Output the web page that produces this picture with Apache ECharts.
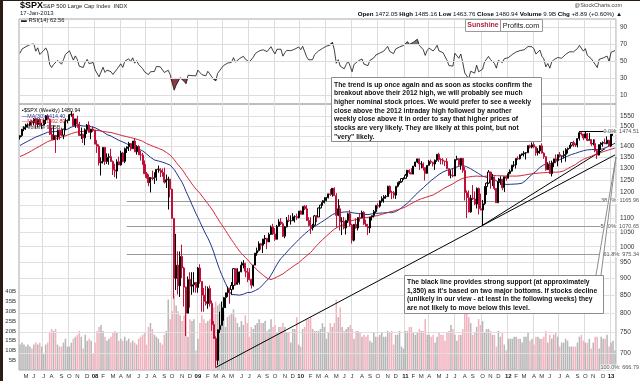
<!DOCTYPE html>
<html><head><meta charset="utf-8">
<script src="https://cdn.jsdelivr.net/npm/echarts@6/dist/echarts.min.js"></script>
<style>html,body{margin:0;padding:0;background:#fff;}#c{width:640px;height:381px;}</style>
</head><body><div id="c"></div>
<script>
// ---------- DATA (weekly $SPX) ----------
const firstWeek = '2007-04-13';
const warmupCloses = [1311,1310,1325,1291,1267,1280,1288,1252,1251,1244,1270,1265,1236,1240,1278,1279,1266,1302,1296,1311,1299,1321,1314,1336,1349,1366,1368,1377,1364,1380,1401,1400,1397,1409,1427,1410,1418,1410,1431,1431,1423,1449,1438,1455,1451,1387,1402,1387,1437,1421,1444];
const opens = [
1444,1452,1484,1494,1505,1505,1522,1515,1536,1507,1533,1502,1503,1530,1552,1534,1458,1433,1453,1445,1479,1474,1454,1484,1525,1527,1557,1561,1501,1536,1509,1453,1458,1441,1481,1504,1468,1484,
1478,1411,1401,1325,1331,1396,1331,1350,1353,1331,1294,1289,1330,1316,1370,1332,1390,1398,1414,1389,1426,1375,1400,1361,1360,1318,1278,1262,1240,1261,1257,1261,1296,1298,1292,1283,1242,1252,1255,1213,1100,899,940,877,968,931,873,800,896,876,880,887,
872,931,890,850,832,826,869,827,770,735,683,757,768,815,843,857,870,866,878,929,882,887,919,940,946,921,918,896,879,940,979,987,1010,1005,1026,1029,1016,1042,1068,1044,1025,1071,1087,1080,1036,1069,1093,1091,1091,1106,1106,1102,1127,
1115,1145,1136,1092,1074,1066,1075,1109,1105,1139,1150,1160,1167,1179,1194,1192,1217,1187,1111,1136,1087,1089,1065,1092,1117,1076,1022,1078,1065,1103,1102,1122,1079,1071,1065,1105,1110,1125,1149,1146,1166,1176,1183,1183,1225,1200,1199,1189,1225,1240,1244,1257,
1258,1271,1293,1283,1276,1311,1329,1343,1320,1321,1304,1279,1314,1332,1328,1320,1337,1364,1340,1338,1333,1331,1300,1271,1271,1268,1340,1344,1316,1345,1292,1199,1179,1124,1177,1174,1154,1216,1136,1131,1155,1224,1238,1285,1253,1264,1216,1159,1244,1255,1219,1265,
1258,1278,1289,1315,1316,1345,1343,1361,1366,1370,1371,1404,1397,1408,1398,1370,1379,1403,1369,1353,1295,1318,1278,1325,1343,1335,1362,1355,1357,1363,1386,1391,1406,1418,1411,1407,1438,1466,1460,1441,1461,1429,1433,1412,1414,1380,1360,1409,1416,1418,1413,1430,
1402,1466.47,1472.05];
const highs = [
1453,1484,1498,1511,1513,1522,1530,1540,1540,1538,1540,1515,1532,1555,1556,1538,1490,1503,1455,1482,1481,1491,1485,1538,1533,1561,1576,1564,1536,1552,1520,1492,1462,1488,1510,1523,1485,1498,
1479,1430,1410,1350,1396,1396,1368,1367,1389,1336,1321,1341,1353,1380,1375,1395,1400,1422,1416,1426,1440,1406,1406,1380,1370,1336,1285,1275,1263,1291,1284,1297,1313,1301,1300,1304,1274,1265,1255,1215,1100,1044,985,984,1007,935,875,905,918,918,918,888,
934,943,890,871,877,875,878,835,779,740,758,804,832,845,857,875,871,888,930,930,930,920,951,956,947,931,931,898,941,979,997,1018,1013,1027,1040,1030,1048,1074,1080,1064,1076,1097,1101,1086,1072,1105,1113,1111,1119,1111,1117,1127,1130,
1145,1150,1150,1104,1104,1080,1112,1112,1140,1151,1169,1181,1182,1195,1214,1217,1220,1197,1173,1150,1104,1105,1095,1121,1131,1080,1079,1100,1103,1120,1129,1127,1095,1080,1105,1110,1131,1149,1158,1168,1184,1189,1190,1227,1228,1207,1205,1225,1241,1246,1259,1262,
1277,1293,1296,1302,1311,1330,1344,1344,1333,1327,1305,1315,1338,1340,1330,1340,1364,1371,1346,1346,1334,1346,1300,1293,1298,1341,1357,1344,1347,1347,1307,1208,1208,1190,1230,1204,1220,1220,1195,1170,1225,1240,1293,1285,1277,1266,1217,1260,1267,1255,1265,1269,
1285,1296,1315,1333,1345,1354,1363,1368,1378,1374,1405,1409,1419,1422,1400,1392,1406,1415,1373,1355,1328,1334,1335,1343,1363,1363,1374,1357,1380,1392,1395,1407,1418,1427,1413,1438,1474.51,1469,1460,1471,1465,1465,1434,1434,1434,1388,1409,1420,1424,1438,1448,1431,
1467,1472.5,1485.16];
const lows = [
1433,1446,1474,1480,1491,1498,1500,1503,1487,1492,1500,1484,1503,1510,1533,1456,1432,1430,1370,1430,1432,1450,1435,1480,1513,1527,1547,1500,1490,1491,1450,1436,1416,1406,1460,1467,1435,1470,
1411,1370,1313,1270,1322,1316,1321,1317,1330,1272,1263,1257,1315,1313,1328,1324,1370,1379,1380,1389,1374,1362,1360,1335,1317,1278,1257,1225,1200,1250,1235,1248,1282,1263,1265,1236,1218,1133,1180,1099,840,865,852,845,900,818,741,800,815,851,858,857,
857,883,804,804,821,812,818,754,734,666.79,672,749,768,780,814,845,826,851,866,878,880,881,918,930,903,888,893,869,875,940,970,984,990,979,1009,992,1016,1041,1040,1020,1025,1070,1075,1033,1029,1067,1086,1077,1091,1085,1094,1100,1115,
1114,1131,1090,1071,1044,1056,1073,1086,1105,1137,1148,1156,1165,1176,1186,1183,1186,1066,1108,1056,1040,1060,1042,1084,1071,1011,1018,1063,1056,1088,1102,1076,1070,1040,1047,1092,1103,1120,1136,1140,1160,1159,1175,1183,1194,1173,1176,1174,1220,1232,1240,1252,
1257,1265,1276,1275,1276,1307,1324,1294,1301,1291,1249,1278,1312,1320,1309,1294,1330,1329,1318,1318,1311,1297,1268,1258,1262,1268,1336,1308,1295,1282,1168,1101,1122,1121,1170,1150,1137,1114,1130,1074.77,1151,1190,1234,1215,1226,1209,1158,1158,1231,1209,1202,1248,
1258,1275,1287,1306,1300,1337,1340,1357,1354,1340,1370,1391,1391,1392,1357,1358,1366,1367,1343,1291,1295,1277,1266,1306,1324,1310,1349,1326,1345,1330,1367,1389,1400,1398,1398,1396,1428,1452,1430,1439,1425,1428,1403,1405,1373,1343,1359,1385,1399,1411,1411,1401,
1398,1451,1463.76];
const closes = [
1452,1484,1494,1505,1505,1522,1515,1536,1507,1533,1502,1503,1530,1552,1534,1458,1433,1453,1445,1479,1474,1454,1484,1525,1527,1557,1561,1501,1536,1509,1453,1458,1441,1481,1504,1468,1484,1478,
1411,1401,1325,1331,1396,1331,1350,1353,1331,1294,1289,1330,1316,1370,1332,1390,1398,1414,1389,1426,1375,1400,1361,1360,1318,1278,1262,1240,1261,1257,1261,1296,1298,1292,1283,1242,1252,1255,1213,1100,899,940,877,968,931,873,800,896,876,880,887,872,
931,890,850,832,826,869,827,770,735,683,757,768,815,843,857,870,866,878,929,882,887,919,940,946,921,918,896,879,940,979,987,1010,1005,1026,1029,1016,1042,1068,1044,1025,1071,1087,1080,1036,1069,1093,1091,1091,1106,1106,1102,1127,1115,
1145,1136,1092,1074,1066,1075,1109,1105,1139,1150,1160,1167,1179,1194,1192,1217,1187,1111,1136,1087,1089,1065,1092,1117,1076,1022,1078,1065,1103,1102,1122,1079,1071,1065,1105,1110,1125,1149,1146,1166,1176,1183,1183,1225,1200,1199,1189,1225,1240,1244,1257,1258,
1271,1293,1283,1276,1311,1329,1343,1320,1321,1304,1279,1314,1332,1328,1320,1337,1364,1340,1338,1333,1331,1300,1271,1271,1268,1340,1344,1316,1345,1292,1199,1179,1124,1177,1174,1154,1216,1136,1131,1155,1224,1238,1285,1253,1264,1216,1159,1244,1255,1219,1265,1258,
1278,1289,1315,1316,1345,1343,1361,1366,1370,1371,1404,1397,1408,1398,1370,1379,1403,1369,1353,1295,1318,1278,1325,1343,1335,1362,1355,1357,1363,1386,1391,1406,1418,1411,1407,1438,1466,1460,1441,1461,1429,1433,1412,1414,1380,1360,1409,1416,1418,1413,1430,1402,
1466.47,1472.05,1480.94];
const volumesB = [
13,14,13,12,13,12,11,13,14,13,14,12,8,13,14,19,21,20,21,13,12,12,14,16,12,12,14,16,17,18,20,17,11,18,15,16,15,8,
14,20,22,23,20,17,15,16,17,19,20,19,15,16,15,17,15,16,14,15,14,13,16,17,18,19,13,22,24,21,18,17,16,14,13,18,20,36,26,30,39,33,30,28,25,28,34,17,26,25,26,10,
16,24,28,26,24,25,26,28,32,35,33,34,30,30,22,27,28,29,31,27,24,22,25,23,28,24,17,22,21,23,24,26,24,24,25,20,21,26,22,23,19,22,22,24,22,19,19,14,21,21,27,13,12,
21,22,26,26,27,21,20,20,20,21,24,22,16,19,24,22,24,36,27,32,22,20,21,22,23,21,16,20,20,19,17,18,17,18,15,14,19,17,17,18,19,17,17,20,19,20,13,18,18,20,12,11,
20,20,22,22,19,18,19,21,20,20,26,18,18,17,18,14,17,19,18,18,15,19,20,23,21,18,15,18,18,21,31,35,27,24,18,19,22,26,23,25,19,21,21,20,18,18,12,20,17,19,13,10,
16,16,16,17,17,16,16,14,17,17,19,15,16,13,17,17,16,16,17,20,14,18,16,18,19,17,12,14,14,16,15,12,12,12,12,14,17,18,15,14,14,16,11,14,17,17,11,17,16,16,18,12,
14,15,10];
const priceTicks = [700,750,800,850,900,950,1000,1050,1100,1200,1250,1300,1350,1400,1500,1550];
const priceGridLines = [700,750,800,850,900,950,1000,1050,1100,1150,1200,1250,1300,1350,1400,1450,1500,1550];
const rsiTicks = [10,30,50,70,90];
const fibLevels = [1474.51,1165.96,1070.65,975.34,666.79];
const fibLabels = ['0.0%: 1474.51','38.2%: 1165.96','50.0%: 1070.65','61.8%: 975.34','100.0%: 666.79'];
const fibStartIdx = 54;
// trend lines: [startIndex, startValue, endIndex, endValue]
const trendLines = [[99,666.79,301,1361],[283,1474.51,301,1474.51],[234,1074.77,296,1390]];
const maPeriods = [30,50];
const legendLines = ['$SPX (Weekly) 1480.94','MA(30) 1414.40','MA(50) 1392.89','Volume 9.95B'];
const note1 = ['The trend is up once again and as soon as stocks confirm the','breakout above their 2012 high, we will probably see much','higher nominal stock prices. We would prefer to see a weekly','close above the 2012 intraday high followed by another','weekly close above it in order to say that higher prices of','stocks are very likely. They are likely at this point, but not','"very" likely.'];
const note2 = ['The black line provides strong support (at approximately','1,350) as it\'s based on two major bottoms. If stocks decline','(unlikely in our view - at least in the following weeks) they','are not likely to move below this level.'];

// ---------- derived ----------
const N = closes.length;
const dates = [];
for (let i = 0; i < N; i++) { const d = new Date(Date.parse(firstWeek + 'T00:00:00Z') + i * 7 * 86400000); dates.push(d.toISOString().slice(0, 10)); }
const allCloses = warmupCloses.concat(closes);
const W = warmupCloses.length;
function sma(n) { const out = []; for (let i = W; i < allCloses.length; i++) { let s = 0; for (let k = i - n + 1; k <= i; k++) s += allCloses[k]; out.push(+(s / n).toFixed(2)); } return out; }
function rsi(n) { const v = allCloses; const out = new Array(v.length).fill(null); let g = 0, l = 0; for (let i = 1; i <= n; i++) { const d = v[i] - v[i - 1]; if (d > 0) g += d; else l -= d; } g /= n; l /= n; out[n] = 100 - 100 / (1 + g / l); for (let i = n + 1; i < v.length; i++) { const d = v[i] - v[i - 1]; g = (g * (n - 1) + Math.max(d, 0)) / n; l = (l * (n - 1) + Math.max(-d, 0)) / n; out[i] = l === 0 ? 100 : 100 - 100 / (1 + g / l); } return out.slice(W).map(x => +x.toFixed(2)); }
const ma1 = sma(maPeriods[0]), ma2 = sma(maPeriods[1]);
const rsiVals = rsi(14);
const month = s => parseInt(s.slice(5, 7), 10);
const isMonthStart = i => i > 0 && month(dates[i]) !== month(dates[i - 1]);
const RED = '#c0103a';
const FONT = '"Liberation Sans", Arial, sans-serif';

const chart = echarts.init(document.getElementById('c'), null, { renderer: 'canvas', width: 640, height: 381 });
const gridL = 19, gridR = 24;
const option = {
  animation: false,
  backgroundColor: '#fff',
  grid: [
    { left: gridL, right: gridR, top: 19, height: 85, show: true, borderColor: '#a8a8a8', borderWidth: 1 },
    { left: gridL, right: gridR, top: 104, height: 266, show: true, borderColor: '#a8a8a8', borderWidth: 1 }
  ],
  xAxis: [
    { type: 'category', gridIndex: 0, data: dates, boundaryGap: true, axisLine: { show: false }, axisTick: { show: false }, axisLabel: { show: false },
      splitLine: { show: true, interval: (i) => isMonthStart(i) && [1,4,7,10].includes(month(dates[i])), lineStyle: { color: '#dcdcdc', width: 1 } } },
    { type: 'category', gridIndex: 1, data: dates, boundaryGap: true, axisLine: { show: false }, axisTick: { show: false },
      axisLabel: { interval: (i) => isMonthStart(i), fontSize: 6, fontFamily: FONT, color: '#333', margin: 3,
        formatter: (v) => { const m = month(v); return m === 1 ? '{y|' + v.slice(2, 4) + '}' : 'JFMAMJJASOND'[m - 1]; },
        rich: { y: { fontWeight: 'bold', fontSize: 6, fontFamily: FONT, color: '#111' } } },
      splitLine: { show: true, interval: (i) => isMonthStart(i) && [1,4,7,10].includes(month(dates[i])), lineStyle: { color: '#dcdcdc', width: 1 } } }
  ],
  yAxis: [
    { type: 'value', gridIndex: 0, position: 'right', min: 0, max: 100, axisLine: { show: false }, axisTick: { show: false }, splitLine: { show: false },
      axisLabel: { customValues: rsiTicks, fontSize: 6.5, fontFamily: FONT, color: '#333', margin: 4 } },
    { type: 'log', gridIndex: 1, position: 'right', min: 661.2, max: 1614.5, logBase: 10, axisLine: { show: false }, axisTick: { show: false }, splitLine: { show: false },
      axisLabel: { customValues: priceTicks, fontSize: 6.5, fontFamily: FONT, color: '#333', margin: 4, formatter: (v) => String(Math.round(v)) } },
    { type: 'value', gridIndex: 1, position: 'left', min: 0, max: 136, interval: 5, axisLine: { show: false }, axisTick: { show: false }, splitLine: { show: false },
      axisLabel: { fontSize: 6, fontFamily: FONT, color: '#333', margin: 3, formatter: (v) => (v > 0 && v <= 40 ? v + 'B' : '') } }
  ],
  series: [
    { type: 'line', xAxisIndex: 0, yAxisIndex: 0, data: [], silent: true,
      markLine: { silent: true, symbol: ['none', 'none'], label: { show: false }, lineStyle: { color: '#dcdcdc', width: 1, type: 'solid' }, data: rsiTicks.map(v => ({ yAxis: v })) } },
    { type: 'line', xAxisIndex: 1, yAxisIndex: 1, data: [], silent: true,
      markLine: { silent: true, symbol: ['none', 'none'], label: { show: false }, lineStyle: { color: '#e0e0e0', width: 1, type: 'solid' }, data: priceGridLines.map(v => ({ yAxis: v })) } },
    { name: 'rsiHigh', type: 'line', xAxisIndex: 0, yAxisIndex: 0, data: rsiVals.map(v => Math.max(v, 70)), symbol: 'none', silent: true, lineStyle: { width: 0 }, areaStyle: { color: '#777', opacity: 1, origin: 70 }, z: 3 },
    { name: 'rsiLow', type: 'line', xAxisIndex: 0, yAxisIndex: 0, data: rsiVals.map(v => Math.min(v, 30)), symbol: 'none', silent: true, lineStyle: { width: 0 }, areaStyle: { color: '#8a3b45', opacity: 1, origin: 30 }, z: 3 },
    { name: 'RSI', type: 'line', xAxisIndex: 0, yAxisIndex: 0, data: rsiVals, symbol: 'none', lineStyle: { color: '#111', width: 0.8 }, z: 4 },
    { name: 'Volume', type: 'bar', xAxisIndex: 1, yAxisIndex: 2, barWidth: '78%', z: 1,
      data: volumesB.map((v, i) => ({ value: v, itemStyle: { color: closes[i] < opens[i] ? '#f2b3bf' : '#b7b7b7' } })) },
    { type: 'line', xAxisIndex: 1, yAxisIndex: 1, data: [], silent: true, z: 2,
      markLine: { silent: true, symbol: ['none', 'none'], label: { show: false }, lineStyle: { color: '#9a9a9a', width: 1, type: 'solid' },
        data: fibLevels.slice(1, 4).map(v => [{ coord: [fibStartIdx, v] }, { coord: [N - 1, v] }]) } },
    { name: 'MA1', type: 'line', xAxisIndex: 1, yAxisIndex: 1, data: ma1, symbol: 'none', lineStyle: { color: '#24348c', width: 1 }, z: 5 },
    { name: 'MA2', type: 'line', xAxisIndex: 1, yAxisIndex: 1, data: ma2, symbol: 'none', lineStyle: { color: '#d2283a', width: 1 }, z: 5 },
    { name: '$SPX', type: 'candlestick', xAxisIndex: 1, yAxisIndex: 1, barWidth: '80%', z: 6,
      data: dates.map((d, i) => [opens[i], closes[i], lows[i], highs[i]]),
      itemStyle: { color: '#ffffff', color0: RED, borderColor: '#000000', borderColor0: RED, borderWidth: 1 } },
    { type: 'line', xAxisIndex: 1, yAxisIndex: 1, data: [], silent: true, z: 7,
      markLine: { silent: true, symbol: ['none', 'none'], label: { show: false }, lineStyle: { color: '#000', width: 1, type: 'solid' },
        data: trendLines.map(t => [{ coord: [t[0], t[1]] }, { coord: [t[2], t[3]] }]) } }
  ]
};
chart.setOption(option);

// ---------- annotations / texts ----------
const g = [];
g.push({ type: 'rect', shape: { x: 0, y: 0, width: 3, height: 381 }, style: { fill: '#2a1e14' }, z: 200 });
g.push({ type: 'rect', shape: { x: 0, y: 0, width: 640, height: 1 }, style: { fill: '#2a1e14' }, z: 200 });
g.push({ type: 'text', x: 20, y: 6, style: { text: '$SPX', font: 'bold 9px ' + FONT, fill: '#000', textVerticalAlign: 'middle' }, z: 100 });
g.push({ type: 'text', x: 43, y: 6, style: { text: 'S&P 500 Large Cap Index  INDX', font: '5.8px ' + FONT, fill: '#222', textVerticalAlign: 'middle' }, z: 100 });
g.push({ type: 'text', x: 20, y: 13, style: { text: '17-Jan-2013', font: '6px ' + FONT, fill: '#222', textVerticalAlign: 'middle' }, z: 100 });
g.push({ type: 'text', x: 21, y: 20.5, style: { text: '\u25AC RSI(14) 62.56', font: '5.8px ' + FONT, fill: '#222', textVerticalAlign: 'middle' }, z: 100 });
g.push({ type: 'text', x: 622, y: 5, style: { text: '@StockCharts.com', font: '5.5px ' + FONT, fill: '#444', textAlign: 'right', textVerticalAlign: 'middle' }, z: 100 });
g.push({ type: 'text', x: 622, y: 14, style: { text: '{b|Open} 1472.05 {b|High} 1485.16 {b|Low} 1463.76 {b|Close} 1480.94 {b|Volume} 9.9B {b|Chg} +8.89 (+0.60%) \u25B2', font: '6.2px ' + FONT, fill: '#111', textAlign: 'right', textVerticalAlign: 'middle', rich: { b: { font: 'bold 6.2px ' + FONT, fill: '#000' } } }, z: 100 });
// logo
g.push({ type: 'rect', shape: { x: 465.5, y: 19.5, width: 77, height: 12 }, style: { fill: '#fff', stroke: '#9a9a9a', lineWidth: 1 }, z: 100 });
g.push({ type: 'line', shape: { x1: 500.5, y1: 19.5, x2: 500.5, y2: 31.5 }, style: { stroke: '#9a9a9a', lineWidth: 1 }, z: 101 });
g.push({ type: 'text', x: 483, y: 25.5, style: { text: 'Sunshine', font: 'bold 7px ' + FONT, fill: '#b0233f', textAlign: 'center', textVerticalAlign: 'middle' }, z: 101 });
g.push({ type: 'text', x: 521, y: 25.5, style: { text: 'Profits.com', font: '7.3px ' + FONT, fill: '#222', textAlign: 'center', textVerticalAlign: 'middle' }, z: 101 });
// legend
const legendColors = ['#000', '#24348c', '#d2283a', '#333'];
legendLines.forEach((t, i) => {
  g.push({ type: 'text', x: 22, y: 110.5 + i * 5.6, style: { text: (i === 0 ? '\u25AA' : '\u2014') + t, font: '5.3px ' + FONT, fill: legendColors[i], textVerticalAlign: 'middle' }, z: 100 });
});
// note boxes
function noteBox(x, y, w, h, lines, lh) {
  g.push({ type: 'rect', shape: { x: x + 0.5, y: y + 0.5, width: w, height: h }, style: { fill: '#fff', stroke: '#8c8c8c', lineWidth: 1 }, z: 110 });
  g.push({ type: 'text', x: x + 3, y: y + 3, scaleX: 0.845, style: { text: lines.join('\n'), font: 'bold 8px ' + FONT, lineHeight: lh, fill: '#111' }, z: 111 });
}
noteBox(331, 77, 210, 64, note1, 8.67);
noteBox(404, 275, 199, 38, note2, 8.5);
// fib labels and pointer, positioned through the axes
fibLevels.forEach((v, i) => {
  const p = chart.convertToPixel({ xAxisIndex: 1, yAxisIndex: 1 }, [N - 1, v]);
  g.push({ type: 'text', x: 639, y: p[1], style: { text: fibLabels[i], font: '5.5px ' + FONT, fill: '#555', textAlign: 'right', textVerticalAlign: 'middle', backgroundColor: 'rgba(255,255,255,0.85)' }, z: 90 });
});
const tip = chart.convertToPixel({ xAxisIndex: 1, yAxisIndex: 1 }, [trendLines[0][2], trendLines[0][3]]);
g.push({ type: 'polyline', shape: { points: [[596, 275], [tip[0] + 1, tip[1] + 2], [601, 275]] }, style: { stroke: '#8c8c8c', fill: '#fff', lineWidth: 1 }, z: 109 });
chart.setOption({ graphic: g });
</script></body></html>
